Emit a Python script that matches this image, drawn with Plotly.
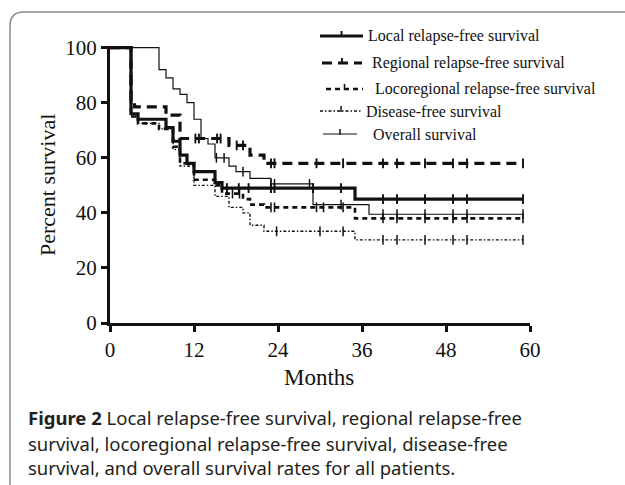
import numpy as np
import plotly.graph_objects as go

# ---- data ----
local_t = [0, 3, 4, 8, 9, 10, 11, 12, 15, 16, 35, 59]
local_s = [100, 76, 74, 71, 66, 61, 58, 55, 51, 49, 45, 45]
local_c = [16.7, 18.4, 19.8, 23, 23.5, 29, 33, 39, 41, 45, 49, 51, 59]

regional_t = [0, 3, 3.5, 8, 10, 17, 20, 22, 59]
regional_s = [100, 80, 78.5, 75.5, 67, 64.5, 61, 58, 58]
regional_c = [12.2, 12.7, 15.3, 15.8, 18.1, 19, 23, 23.5, 29.5, 33.3, 39, 41, 45, 49, 51, 59]

locoreg_t = [0, 3, 4, 7, 9, 10, 12, 15, 16, 19, 20, 22, 35, 59]
locoreg_s = [100, 75, 72.5, 70.5, 64, 58, 52, 50, 47, 45, 43, 42, 38, 38]
locoreg_c = [17.5, 18.5, 23, 23.5, 29.5, 30.5, 33.3, 39, 41, 45, 49, 51, 59]

dfs_t = [0, 3, 4, 7, 9, 10, 12, 15, 17, 19, 20, 22, 35, 59]
dfs_s = [100, 75, 72.5, 70.5, 63, 57, 50, 46, 42, 40, 35.5, 33.3, 30.2, 30.2]
dfs_c = [23.8, 30, 33.3, 39, 41, 45, 49, 51, 59]

os_t = [0, 7, 8, 9, 10, 11, 12, 13, 14, 15, 17, 18, 20, 23, 29, 37, 59]
os_s = [100, 92, 89, 85, 83, 80, 74, 67, 65, 60, 57, 55, 52.5, 50.5, 43, 39.5, 39.5]
os_c = [15.2, 16.3, 19, 23, 23.5, 28.5, 33, 39, 41, 45, 49, 51, 59]

names = ["Local relapse-free survival", "Regional relapse-free survival",
         "Locoregional relapse-free survival", "Disease-free survival", "Overall survival"]
x_ticks = [0, 12, 24, 36, 48, 60]
y_ticks = [0, 20, 40, 60, 80, 100]

series = [
    (local_t, local_s, local_c, 3.2, "solid"),
    (regional_t, regional_s, regional_c, 3.2, "10px,6px"),
    (locoreg_t, locoreg_s, locoreg_c, 2.6, "5px,4px"),
    (dfs_t, dfs_s, dfs_c, 1.4, "3px,2px,1.5px,2px"),
    (os_t, os_s, os_c, 1.2, "solid"),
]

INK = "#111111"
fig = go.Figure()

def step_at(t, s, x):
    t = np.asarray(t); s = np.asarray(s)
    i = np.searchsorted(t, x, side="right") - 1
    return s[np.clip(i, 0, len(s) - 1)]

for (t, s, c, w, dash), name in zip(series, names):
    fig.add_trace(go.Scatter(x=t, y=s, mode="lines", line=dict(color=INK, width=w, dash=dash, shape="hv"),
                             name=name, showlegend=False, hoverinfo="skip"))
    fig.add_trace(go.Scatter(x=c, y=step_at(t, s, c), mode="markers",
                             marker=dict(symbol="line-ns", size=7, line=dict(color=INK, width=max(1.5, w * 0.6))),
                             showlegend=False, cliponaxis=False, hoverinfo="skip"))

# plot area geometry in pixels
L, R, T, B = 110, 530, 46, 323
def xp(px):
    return (px - L) / (R - L)
def yp(py):
    return (B - py) / (B - T)

shapes = []
annotations = []

# custom legend
leg_rows = [36, 63, 89, 111, 134]
leg_x0 = [320, 322, 326, 320, 323]
leg_x1 = [363, 362, 363, 362, 357]
leg_tx = [366, 370, 373, 364, 371]
for (t, s, c, w, dash), name, ry, x0, x1, tx in zip(series, names, leg_rows, leg_x0, leg_x1, leg_tx):
    shapes.append(dict(type="line", xref="paper", yref="paper", x0=xp(x0), x1=xp(x1), y0=yp(ry), y1=yp(ry),
                       line=dict(color=INK, width=w, dash=dash)))
    mx = (x0 + x1) / 2
    shapes.append(dict(type="line", xref="paper", yref="paper", x0=xp(mx), x1=xp(mx), y0=yp(ry + 1), y1=yp(ry - 5),
                       line=dict(color=INK, width=max(1.5, w * 0.6))))
    annotations.append(dict(text=name, xref="paper", yref="paper", x=xp(tx), y=yp(ry), xanchor="left",
                            yanchor="middle", showarrow=False,
                            font=dict(family="Liberation Serif", size=16, color=INK)))

# axis titles
annotations.append(dict(text="Percent survival", xref="paper", yref="paper", x=xp(47), y=yp(185),
                        textangle=-90, showarrow=False, xanchor="center", yanchor="middle",
                        font=dict(family="Liberation Serif", size=22, color=INK)))
annotations.append(dict(text="Months", xref="paper", yref="paper", x=xp(319), y=yp(377),
                        showarrow=False, xanchor="center", yanchor="middle",
                        font=dict(family="Liberation Serif", size=23, color=INK)))

# caption
cap = ["<b>Figure 2</b> Local relapse-free survival, regional relapse-free",
       "survival, locoregional relapse-free survival, disease-free",
       "survival, and overall survival rates for all patients."]
for line, cy in zip(cap, [417, 443, 468]):
    annotations.append(dict(text=line, xref="paper", yref="paper", x=xp(26), y=yp(cy), xanchor="left",
                            yanchor="middle", showarrow=False,
                            font=dict(family="Noto Sans", size=18.5, color="#231f20")))

# rounded border
r = 14
path = (f"M {xp(10)},{yp(495)} L {xp(10)},{yp(12 + r)} Q {xp(10)},{yp(12)} {xp(10 + r)},{yp(12)} "
        f"L {xp(640)},{yp(12)}")
shapes.append(dict(type="path", xref="paper", yref="paper", path=path, line=dict(color="#8a8a8a", width=1.5)))

fig.update_layout(
    width=625, height=485,
    margin=dict(l=L, r=625 - R, t=T, b=485 - B),
    paper_bgcolor="white", plot_bgcolor="white",
    showlegend=False,
    shapes=shapes, annotations=annotations,
    xaxis=dict(range=[0, 60], tickvals=x_ticks, ticktext=[str(v) for v in x_ticks],
               showline=True, linecolor=INK, linewidth=3, ticks="outside", ticklen=6, tickwidth=3,
               tickcolor=INK, showgrid=False, zeroline=False,
               tickfont=dict(family="Liberation Serif", size=21, color=INK)),
    yaxis=dict(range=[0, 100.6], tickvals=y_ticks, ticktext=[str(v) for v in y_ticks],
               showline=True, linecolor=INK, linewidth=3, ticks="outside", ticklen=6, tickwidth=3,
               tickcolor=INK, showgrid=False, zeroline=False,
               tickfont=dict(family="Liberation Serif", size=21, color=INK)),
)

fig.write_html("out.html", config={"displayModeBar": False},
               post_script="document.body.style.margin='0';")
